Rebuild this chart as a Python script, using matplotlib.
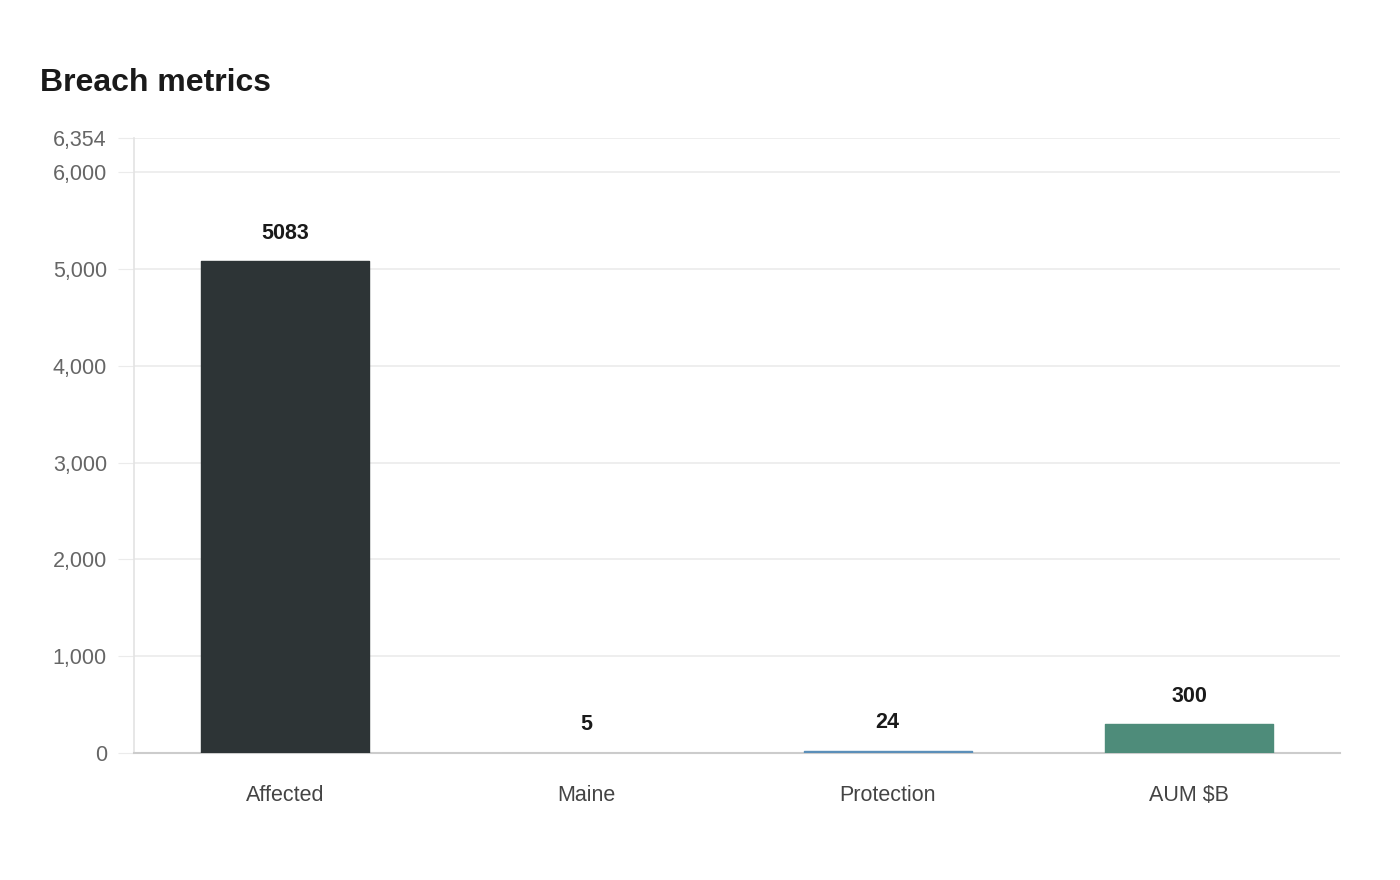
import matplotlib
matplotlib.use("Agg")
import matplotlib.pyplot as plt
from matplotlib.ticker import FuncFormatter

categories = ["Affected", "Maine", "Protection", "AUM $B"]
values = [5083, 5, 24, 300]
colors = ["#2d3436", "#c8c8c8", "#5b8fb9", "#4e8c7a"]
yticks = [0, 1000, 2000, 3000, 4000, 5000, 6000, 6354]
ymax = 6354

plt.rcParams['font.family'] = ['Liberation Sans', 'DejaVu Sans']

fig = plt.figure(figsize=(14, 8.8), dpi=100)
ax = fig.add_axes([134/1400, 127/880, 1206/1400, 615/880])

x = list(range(len(categories)))
bars = ax.bar(x, values, width=0.557, color=colors, edgecolor=colors,
              linewidth=1.0, joinstyle='round', zorder=3)

for xi, v in zip(x, values):
    ax.annotate(str(v), (xi, v), xytext=(0, 20), textcoords='offset points',
                ha='center', va='center', fontsize=15.5, fontweight='bold',
                color='#1a1a1a')

ax.set_xlim(-0.5, len(categories) - 0.5)
ax.set_ylim(0, ymax)
ax.set_yticks(yticks)
ax.yaxis.set_major_formatter(FuncFormatter(lambda v, p: f"{int(round(v)):,}"))
ax.set_xticks(x)
ax.set_xticklabels(categories)

ax.grid(axis='y', color='#ebebeb', linewidth=1.2, zorder=0)
ax.tick_params(axis='y', length=11.5, color='#ebebeb', labelsize=15.5, labelcolor='#666666', pad=8)
ax.tick_params(axis='x', length=0, labelsize=15.5, labelcolor='#444444', pad=23)

for s in ['top', 'right']:
    ax.spines[s].set_visible(False)
ax.spines['left'].set_color('#e3e3e3')
ax.spines['left'].set_linewidth(1.2)
ax.spines['bottom'].set_color('#cccccc')
ax.spines['bottom'].set_linewidth(1.5)
ax.spines['bottom'].set_zorder(2.5)

fig.text(40/1400, 1 - 83/880, "Breach metrics", fontsize=23, fontweight='bold',
         color='#1a1a1a', ha='left', va='center')

fig.savefig("out.png", dpi=100, facecolor='white')
